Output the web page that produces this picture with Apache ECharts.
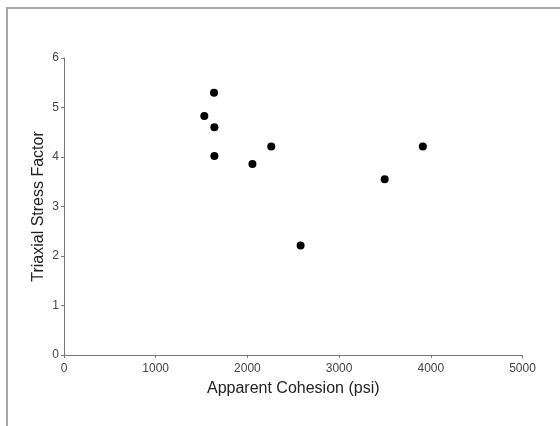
<!DOCTYPE html>
<html>
<head>
<meta charset="utf-8">
<script src="https://cdn.jsdelivr.net/npm/echarts@6/dist/echarts.min.js"></script>
<style>html,body{margin:0;padding:0;background:#fff}#c{width:560px;height:426px}</style>
</head>
<body>
<div id="c"></div>
<script>
var cohesion = [1636, 1530, 1640, 1640, 2055, 2260, 2580, 3497, 3913];
var stressFactor = [5.30, 4.83, 4.60, 4.02, 3.86, 4.21, 2.21, 3.55, 4.21];
var xTicks = [0, 1000, 2000, 3000, 4000, 5000];
var yTicks = [0, 1, 2, 3, 4, 5, 6];

var points = cohesion.map(function (c, i) { return [c, stressFactor[i]]; });
var chart = echarts.init(document.getElementById('c'), null, {renderer: 'canvas'});
var font = 'Liberation Sans, Arial, sans-serif';
chart.setOption({
  animation: false,
  backgroundColor: '#fff',
  graphic: [
    {type: 'rect', shape: {x: 6, y: 7, width: 560, height: 2}, style: {fill: '#aaa6a6'}, silent: true},
    {type: 'rect', shape: {x: 6, y: 7, width: 2, height: 426}, style: {fill: '#aaa6a6'}, silent: true}
  ],
  grid: {left: 64, right: 37.5, top: 58, bottom: 71, containLabel: false},
  xAxis: {
    type: 'value', min: xTicks[0], max: xTicks[xTicks.length - 1], interval: 1000,
    name: 'Apparent Cohesion (psi)', nameLocation: 'middle', nameGap: 26,
    nameMoveOverlap: false,
    nameTextStyle: {fontFamily: font, fontSize: 16, color: '#222'},
    axisLine: {show: true, lineStyle: {color: '#777', width: 1}},
    axisTick: {show: true, length: 3, lineStyle: {color: '#777'}},
    axisLabel: {fontFamily: font, fontSize: 12, color: '#444', margin: 8,
      formatter: function (v) { return String(v); }},
    splitLine: {show: false}
  },
  yAxis: {
    type: 'value', min: yTicks[0], max: yTicks[yTicks.length - 1], interval: 1,
    name: 'Triaxial Stress Factor', nameLocation: 'middle', nameGap: 17,
    nameMoveOverlap: false,
    nameTextStyle: {fontFamily: font, fontSize: 16, color: '#222'},
    axisLine: {show: true, lineStyle: {color: '#777', width: 1}},
    axisTick: {show: true, length: 3, lineStyle: {color: '#777'}},
    axisLabel: {fontFamily: font, fontSize: 12, color: '#444', margin: 5},
    splitLine: {show: false}
  },
  series: [{
    type: 'scatter',
    data: points,
    symbol: 'circle',
    symbolSize: 8,
    itemStyle: {color: '#000', opacity: 1}
  }]
});
</script>
</body>
</html>
